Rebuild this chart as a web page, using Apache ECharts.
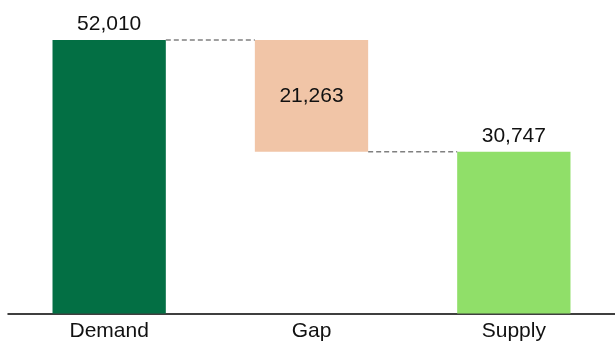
<!DOCTYPE html>
<html>
<head>
<meta charset="utf-8">
<script src="https://cdn.jsdelivr.net/npm/echarts@6/dist/echarts.min.js"></script>
<style>
html,body{margin:0;padding:0;background:#fff;}
#chart{width:615px;height:342px;}
</style>
</head>
<body>
<div id="chart"></div>
<script>
var categories = ['Demand', 'Gap', 'Supply'];
var barValues = [52010, 21263, 30747];
var baseValues = [0, 30747, 0];
var barColors = ['#036F44', '#F1C5A7', '#90DF69'];
// connector levels between consecutive bars: [fromIndex, level]
var connectors = [[0, 52010], [1, 30747]];

var BAR_RATIO = 0.56;
var FONT = '"Liberation Sans", Arial, sans-serif';

var chart = echarts.init(document.getElementById('chart'));
chart.setOption({
  animation: false,
  grid: { left: 8, right: 0, top: 40, bottom: 28.5, containLabel: false },
  xAxis: {
    type: 'category',
    data: categories,
    axisLine: { show: true, lineStyle: { color: '#000', width: 1.5 } },
    axisTick: { show: false },
    axisLabel: { color: '#111', fontSize: 21, fontFamily: FONT, margin: 7 },
    splitLine: { show: false }
  },
  yAxis: {
    type: 'value',
    min: 0,
    max: 52010,
    show: false,
    splitLine: { show: false }
  },
  series: [
    {
      name: 'base',
      type: 'bar',
      stack: 'w',
      barWidth: (BAR_RATIO * 100) + '%',
      itemStyle: { color: 'transparent' },
      emphasis: { disabled: true },
      data: baseValues,
      silent: true
    },
    {
      name: 'value',
      type: 'bar',
      stack: 'w',
      barWidth: (BAR_RATIO * 100) + '%',
      data: barValues.map(function (v, i) {
        return {
          value: v,
          itemStyle: { color: barColors[i] },
          label: {
            show: true,
            position: i === 1 ? 'inside' : 'top',
            distance: 5,
            formatter: function (p) { return p.value.toLocaleString('en-US'); },
            color: '#111',
            fontSize: 21,
            fontFamily: FONT
          }
        };
      })
    },
    {
      name: 'connectors',
      type: 'custom',
      data: connectors,
      z: 5,
      renderItem: function (params, api) {
        var i = api.value(0);
        var lvl = api.value(1);
        var p1 = api.coord([i, lvl]);
        var p2 = api.coord([i + 1, lvl]);
        var band = api.size([1, 0])[0];
        var half = band * BAR_RATIO / 2;
        return {
          type: 'line',
          shape: { x1: p1[0] + half, y1: p1[1], x2: p2[0] - half, y2: p2[1] },
          style: { stroke: '#808080', lineWidth: 1.5, lineDash: [5, 3] }
        };
      }
    }
  ]
});
</script>
</body>
</html>
